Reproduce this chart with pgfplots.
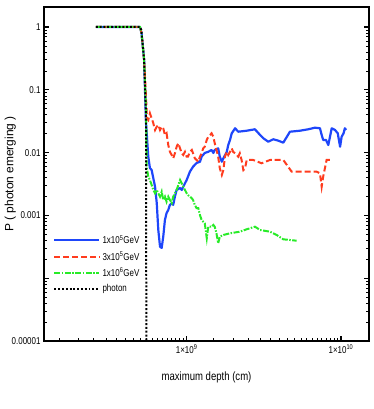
\documentclass[border=0pt]{standalone}
\usepackage{fontspec}
\setmainfont{Liberation Sans}[FakeStretch=0.8]
\newfontfamily\ylfont{Liberation Sans}
\usepackage{pgfplots}
\pgfplotsset{compat=1.18}

\definecolor{cblue}{RGB}{30,70,250}
\definecolor{cred}{RGB}{255,60,30}
\definecolor{cgreen}{RGB}{40,235,40}

\begin{document}
\begin{tikzpicture}
\begin{axis}[
  xmode=log, ymode=log,
  scale only axis, width=325bp, height=334bp,
  xmin=1.19e8, xmax=1.52e10, ymin=1e-5, ymax=2.08,
  axis line style={line width=1.1pt},
  major tick style={black, line width=1.2pt},
  minor tick style={black, line width=0.7pt},
  major tick length=5.5bp, minor tick length=3bp,
  tick align=inside,
  xtick pos=left,
  xtick={1e9,1e10},
  xticklabels={1×10\textsuperscript{9},1×10\textsuperscript{10}},
  minor xtick={1.5e8,2e8,2.5e8,3e8,3.5e8,4e8,4.5e8,5e8,5.5e8,6e8,6.5e8,7e8,7.5e8,8e8,8.5e8,9e8,9.5e8,
               1.5e9,2e9,2.5e9,3e9,3.5e9,4e9,4.5e9,5e9,5.5e9,6e9,6.5e9,7e9,7.5e9,8e9,8.5e9,9e9,9.5e9,1.5e10},
  ytick={1e-5,1e-4,1e-3,1e-2,1e-1,1},
  yticklabels={0.00001,,0.001,0.01,0.1,1},
  tick label style={font=\fontsize{10}{12}\selectfont},
  xlabel={maximum depth (cm)},
  ylabel={\ylfont P ( photon emerging )},
  label style={font=\fontsize{12}{14}\selectfont},
  xlabel style={at={(axis description cs:0.5,-0.108)}, anchor=center},
  ylabel style={at={(axis description cs:-0.104,0.5)}, anchor=center},
  legend style={at={(axis description cs:0.025,0.326)}, anchor=north west,
    draw=none, fill=none, font=\fontsize{10}{12}\selectfont,
    row sep=2.5bp, inner sep=1bp},
  legend cell align=left,
  legend image code/.code={\draw[#1] (0bp,0bp) -- (45bp,0bp);},
]
\addplot[cblue, line width=2.2pt, line join=round] coordinates {
(2.58e8,1)(4.98e8,1)(5.1e8,0.8)(5.3e8,0.3)(5.37e8,0.1)(5.45e8,0.03)(5.64e8,0.00861)
(5.78e8,0.00569)(5.93e8,0.00528)(6.24e8,0.00286)(6.40e8,0.00157)(6.55e8,0.000586)
(6.72e8,0.000318)(6.89e8,0.000303)(7.05e8,0.000458)(7.23e8,0.000845)(7.41e8,0.00109)
(7.60e8,0.00122)(7.79e8,0.00147)(8.00e8,0.00157)(8.18e8,0.00147)(8.39e8,0.00199)
(8.61e8,0.00254)(9.06e8,0.00273)(9.29e8,0.00254)(9.50e8,0.00286)(9.75e8,0.00324)
(1.00e9,0.00366)(1.05e9,0.00497)(1.10e9,0.00596)(1.16e9,0.00683)(1.22e9,0.00716)
(1.25e9,0.00861)(1.31e9,0.00986)(1.38e9,0.0103)(1.45e9,0.0110)(1.49e9,0.00986)
(1.52e9,0.0110)(1.60e9,0.0117)(1.64e9,0.00861)(1.69e9,0.00716)(1.73e9,0.00811)
(1.82e9,0.0103)(1.86e9,0.0132)(1.91e9,0.0159)(1.96e9,0.0203)(2.06e9,0.0244)
(2.16e9,0.0215)(2.45e9,0.0223)(2.77e9,0.0235)(2.99e9,0.0191)(3.14e9,0.0169)
(3.38e9,0.0149)(3.64e9,0.0163)(3.92e9,0.0155)(4.23e9,0.0144)(4.67e9,0.0215)
(5.42e9,0.0223)(6.14e9,0.0235)(6.78e9,0.0249)(7.31e9,0.0244)(7.50e9,0.0191)
(7.67e9,0.0159)(8.00e9,0.0159)(8.28e9,0.0132)(8.49e9,0.0179)(8.71e9,0.0244)
(9.15e9,0.0229)(9.53e9,0.0203)(9.87e9,0.0124)(1.01e10,0.0179)(1.04e10,0.0203)
(1.06e10,0.0244)(1.08e10,0.0229)
};
\addlegendentry{1x10\textsuperscript{5}GeV}
\addplot[cred, line width=2pt, dash pattern=on 6pt off 3pt] coordinates {
(2.58e8,1)(4.98e8,1)(5.1e8,0.8)(5.3e8,0.3)(5.45e8,0.08)(5.53e8,0.035)(5.64e8,0.033)
(5.78e8,0.0422)(5.93e8,0.0352)(6.08e8,0.0293)(6.24e8,0.0229)(6.40e8,0.0258)
(6.55e8,0.0275)(6.72e8,0.0229)(6.89e8,0.0258)(7.05e8,0.0244)(7.23e8,0.0191)
(7.41e8,0.0203)(7.60e8,0.0132)(7.79e8,0.0103)(8.00e8,0.00916)(8.18e8,0.00811)
(8.39e8,0.00975)(8.61e8,0.0124)(8.83e8,0.0141)(9.06e8,0.0117)(9.29e8,0.00975)
(9.50e8,0.00916)(9.75e8,0.0103)(1.00e9,0.00861)(1.02e9,0.00861)(1.05e9,0.0103)
(1.08e9,0.0110)(1.10e9,0.00975)(1.13e9,0.00811)(1.16e9,0.00763)(1.19e9,0.00716)
(1.22e9,0.00861)(1.25e9,0.00975)(1.28e9,0.0117)(1.31e9,0.0124)(1.35e9,0.0159)
(1.38e9,0.0179)(1.42e9,0.0191)(1.45e9,0.0203)(1.49e9,0.0179)(1.52e9,0.0141)
(1.56e9,0.0110)(1.60e9,0.00861)(1.64e9,0.00562)(1.69e9,0.00440)(1.73e9,0.00528)
(1.77e9,0.00861)(1.82e9,0.0103)(1.86e9,0.00916)(1.91e9,0.0103)(1.96e9,0.0117)
(2.00e9,0.0103)(2.06e9,0.00975)(2.11e9,0.00916)(2.16e9,0.00861)(2.21e9,0.00975)
(2.27e9,0.00763)(2.33e9,0.00528)(2.39e9,0.00562)(2.45e9,0.00763)(2.70e9,0.00763)
(3.06e9,0.00676)(3.47e9,0.00763)(4.23e9,0.00763)(4.79e9,0.00497)(5.99e9,0.00497)
(6.95e9,0.00497)(7.31e9,0.00468)(7.50e9,0.00286)(7.67e9,0.00413)(7.87e9,0.00562)
(8.07e9,0.00763)(8.71e9,0.00763)
};
\addlegendentry{3x10\textsuperscript{5}GeV}
\addplot[cgreen, line width=2pt, dash pattern=on 6pt off 1.5pt on 1.5pt off 1.5pt] coordinates {
(2.58e8,1)(4.98e8,1)(5.1e8,0.8)(5.3e8,0.3)(5.45e8,0.05)(5.51e8,0.0059)(5.64e8,0.00413)
(5.78e8,0.00366)(5.93e8,0.00305)(6.08e8,0.00254)(6.24e8,0.00225)(6.40e8,0.00254)
(6.55e8,0.00225)(6.72e8,0.00199)(6.89e8,0.00238)(7.05e8,0.00176)(7.23e8,0.00199)
(7.41e8,0.00165)(7.60e8,0.00199)(7.79e8,0.00176)(8.00e8,0.00157)(8.18e8,0.00199)
(8.39e8,0.00225)(8.61e8,0.00254)(8.83e8,0.00305)(9.06e8,0.00366)(9.29e8,0.00324)
(9.50e8,0.00286)(9.75e8,0.00254)(1.00e9,0.00225)(1.02e9,0.00211)(1.05e9,0.00199)
(1.08e9,0.00187)(1.10e9,0.00176)(1.13e9,0.00147)(1.16e9,0.00130)(1.19e9,0.00130)
(1.22e9,0.00101)(1.25e9,0.000845)(1.28e9,0.000794)(1.31e9,0.000749)(1.35e9,0.000432)
(1.38e9,0.000661)(1.42e9,0.000661)(1.45e9,0.000661)(1.49e9,0.000704)(1.52e9,0.000661)
(1.56e9,0.000519)(1.60e9,0.000360)(1.64e9,0.000458)(1.73e9,0.000488)(1.91e9,0.000519)
(2.21e9,0.000550)(2.45e9,0.000601)(2.77e9,0.000661)(2.99e9,0.000586)(3.47e9,0.000550)
(3.83e9,0.000488)(4.23e9,0.000416)(4.67e9,0.000406)(5.16e9,0.000395)
};
\addlegendentry{1x10\textsuperscript{6}GeV}
\addplot[black, line width=2pt, dash pattern=on 2pt off 1.8pt] coordinates {
(2.58e8,1)(4.98e8,1)(5.08e8,0.9)(5.3e8,0.3)(5.45e8,0.04)(5.48e8,1e-5)
};
\addlegendentry{photon}
\end{axis}
\pgfresetboundingbox
\path (current axis.south west) ++(-44bp,-68bp) rectangle ++(374bp,409bp);
\end{tikzpicture}
\end{document}
